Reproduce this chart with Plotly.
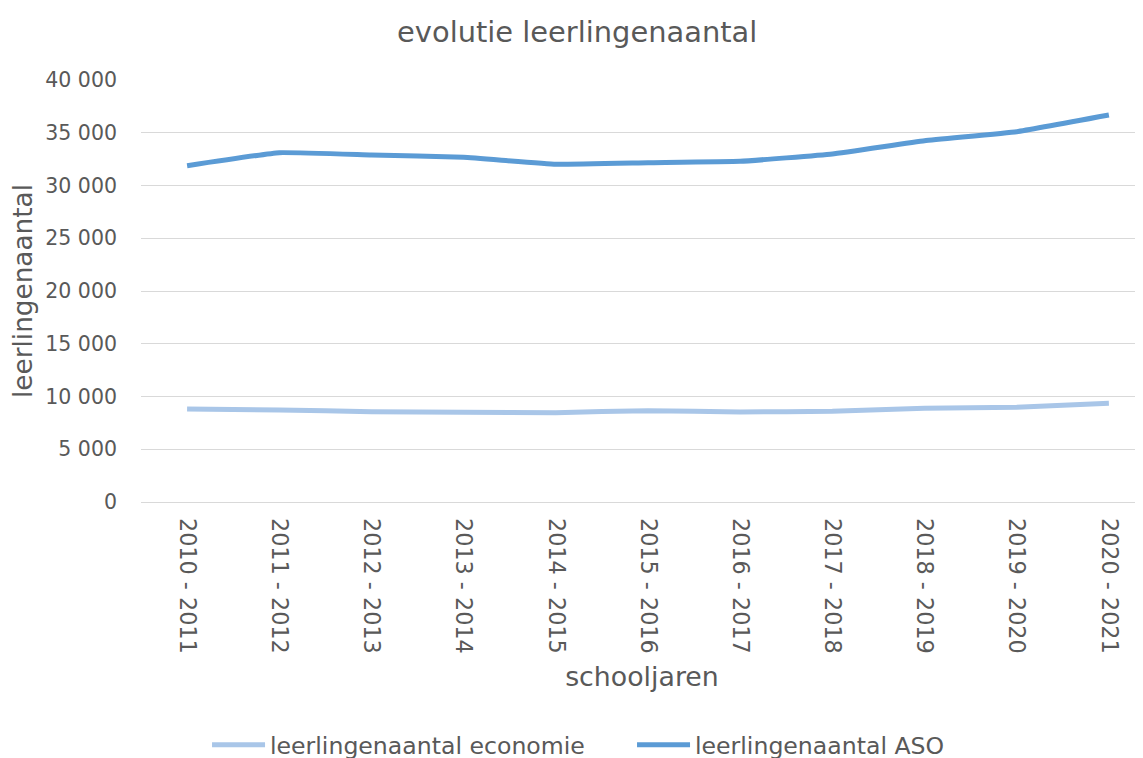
import plotly.graph_objects as go

categories = ["2010 - 2011", "2011 - 2012", "2012 - 2013", "2013 - 2014", "2014 - 2015",
              "2015 - 2016", "2016 - 2017", "2017 - 2018", "2018 - 2019", "2019 - 2020",
              "2020 - 2021"]
economie = [8815, 8720, 8560, 8500, 8470, 8660, 8530, 8600, 8880, 8970, 9350]
aso = [31880, 33110, 32890, 32670, 32010, 32160, 32290, 32990, 34250, 35100, 36680]

TXT = "#595959"
FONT = "DejaVu Sans"

fig = go.Figure()
fig.add_trace(go.Scatter(x=categories, y=economie, mode="lines",
                         name="leerlingenaantal economie",
                         line=dict(color="#A9C6E8", width=5, shape="spline", smoothing=0.3)))
fig.add_trace(go.Scatter(x=categories, y=aso, mode="lines",
                         name="leerlingenaantal ASO",
                         line=dict(color="#5B9BD5", width=5, shape="spline", smoothing=0.3)))

H = 780
fig.update_layout(
    width=1143, height=H,
    paper_bgcolor="white", plot_bgcolor="white",
    separators=", ",
    font=dict(family=FONT, color=TXT, size=20),
    margin=dict(l=133, r=8, t=72, b=H - 494),
    title=dict(text="evolutie leerlingenaantal", x=0.498, xanchor="center",
               y=1 - 24 / H, yanchor="middle", font=dict(size=28.9, color=TXT)),
    xaxis=dict(type="category", range=[-0.5, 10.37], tickangle=90,
               showgrid=False, showline=False, zeroline=False,
               ticklabelstandoff=15, tickfont=dict(size=22.3),
               title=dict(text="schooljaren", font=dict(size=26.8), standoff=14)),
    yaxis=dict(range=[0, 40000], dtick=5000, tickformat=",d",
               showgrid=True, gridcolor="#D9D9D9", gridwidth=1.3,
               zeroline=True, zerolinecolor="#D9D9D9", zerolinewidth=1.3,
               showline=False, ticklabelstandoff=23, tickfont=dict(size=20.5),
               title=dict(text="leerlingenaantal", font=dict(size=26.3), standoff=6)),
    legend=dict(orientation="h", x=0.0659, xanchor="left", y=-(737 - 494) / 422,
                yanchor="middle", entrywidth=357, entrywidthmode="pixels",
                itemwidth=53,
                font=dict(size=23.6, color=TXT)),
    showlegend=True,
)

fig.write_html("out.html")
